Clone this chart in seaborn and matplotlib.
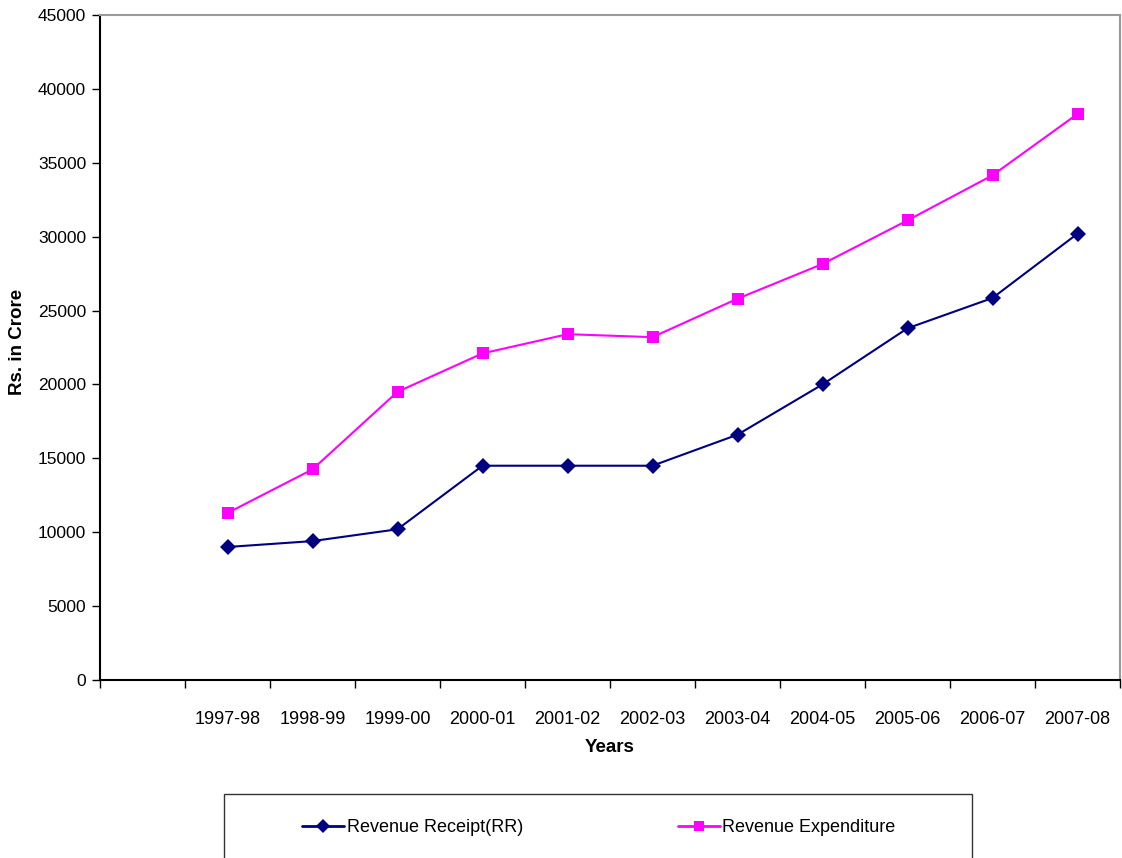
import numpy as np
import pandas as pd
import matplotlib
matplotlib.use("Agg")
import matplotlib.pyplot as plt
from matplotlib.patches import Rectangle
import seaborn as sns

# data
years = ["1997-98", "1998-99", "1999-00", "2000-01", "2001-02", "2002-03",
         "2003-04", "2004-05", "2005-06", "2006-07", "2007-08"]
revenue_receipt = [9000, 9400, 10200, 14500, 14500, 14500,
                   16600, 20000, 23800, 25850, 30200]
revenue_expenditure = [11300, 14250, 19500, 22100, 23400, 23200,
                       25800, 28150, 31100, 34150, 38300]
series_names = ["Revenue Receipt(RR)", "Revenue Expenditure"]

# slot 0 on the axis is left empty in the original, years start at slot 1
pos = np.arange(1, len(years) + 1)
df = pd.DataFrame({
    "pos": np.concatenate([pos, pos]),
    "value": revenue_receipt + revenue_expenditure,
    "series": [series_names[0]] * len(years) + [series_names[1]] * len(years),
})

sns.set_style("white")
plt.rcParams["font.family"] = ["Liberation Sans", "DejaVu Sans"]
plt.rcParams["text.color"] = "black"
plt.rcParams["axes.labelcolor"] = "black"
plt.rcParams["xtick.color"] = "black"
plt.rcParams["ytick.color"] = "black"

fig = plt.figure(figsize=(11.22, 8.58), dpi=100)
ax = fig.add_axes([100 / 1122, 1 - 680 / 858, 1020 / 1122, 665 / 858])

sns.lineplot(data=df, x="pos", y="value", hue="series", style="series",
             palette={series_names[0]: "#000080", series_names[1]: "#FF00FF"},
             markers={series_names[0]: "D", series_names[1]: "s"},
             dashes=False, markersize=8, markeredgewidth=0, linewidth=1.5,
             ax=ax, legend=True)

ax.set_xlim(-0.5, len(years) + 0.5)
ax.set_ylim(0, 45000)
ax.set_yticks(np.arange(0, 45001, 5000))
ax.set_xticks(pos)
ax.set_xticklabels(years)
ax.set_xticks(np.arange(-0.5, len(years) + 1, 1), minor=True)
ax.tick_params(axis="x", which="major", length=0, pad=22, labelsize=13)
ax.tick_params(axis="x", which="minor", length=6, width=1,
               direction="out", bottom=True)
ax.tick_params(axis="y", length=6, width=1, direction="out",
               left=True, labelsize=12.5, pad=4)

for side in ["left", "bottom"]:
    ax.spines[side].set_color("black")
    ax.spines[side].set_linewidth(1.5)
for side in ["top", "right"]:
    ax.spines[side].set_color("#999999")
    ax.spines[side].set_linewidth(1.5)
    ax.spines[side].set_visible(True)

ax.set_xlabel("Years", fontsize=13.5, fontweight="bold", labelpad=8)
ax.set_ylabel("Rs. in Crore", fontsize=13.5, fontweight="bold")
ax.yaxis.set_label_coords(-0.0725, 0.508)

# legend box runs off the bottom edge in the original
fig.patches.append(Rectangle((224 / 1122, -0.02), 748 / 1122, 0.02 + 64 / 858,
                             transform=fig.transFigure, fill=False,
                             edgecolor="#333333", linewidth=1.0))
handles, labels = ax.get_legend_handles_labels()
ax.get_legend().remove()
for h in handles:
    h.set_markersize(7)
    h.set_linewidth(2)
fig.legend(handles, labels, ncol=2, loc="center",
           bbox_to_anchor=(599 / 1122, 1 - 828 / 858),
           frameon=False, fontsize=13, handlelength=2.3,
           handletextpad=0.15, columnspacing=8.6, borderaxespad=0)

fig.savefig("out.png", dpi=100)
